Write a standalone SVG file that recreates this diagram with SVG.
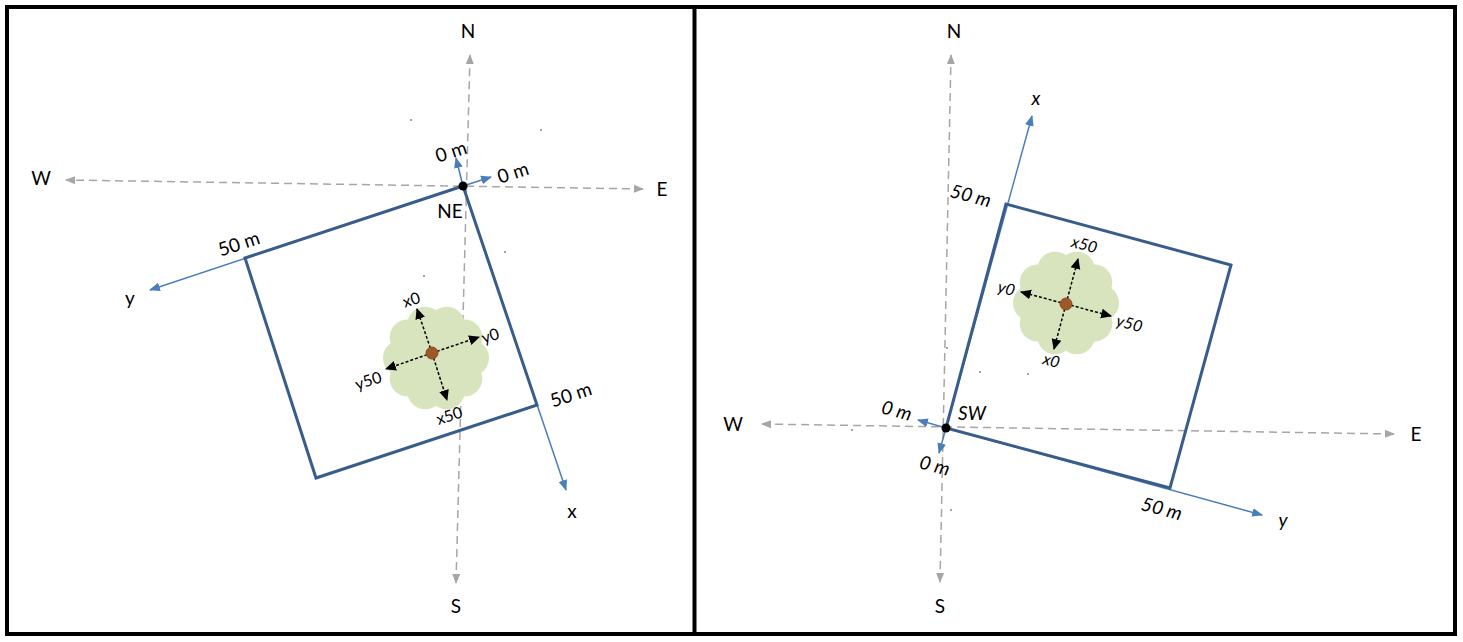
<svg xmlns="http://www.w3.org/2000/svg" xmlns:xlink="http://www.w3.org/1999/xlink" width="1463" height="642" viewBox="0 0 1463 642">
<style>
text{font-family:Lato,"Liberation Sans",sans-serif;fill:#000;}
.lbl{font-size:19px;}
.it{font-style:italic;}
.small{font-size:16px;}
.axis{stroke:#A6A6A6;stroke-width:1.5;stroke-dasharray:8 5;fill:none;marker-end:url(#ag);}
.both{marker-start:url(#ags);}
.bl{stroke:#4A7EBB;stroke-width:1.5;fill:none;marker-end:url(#ab);}
.sq{stroke:#385D8A;stroke-width:3;fill:none;stroke-linejoin:miter;}
.tr{stroke:#000;stroke-width:1.5;stroke-dasharray:3 2;fill:none;marker-end:url(#ak);}
.dot{fill:#8080C0;}
</style>
<defs>
<marker id="ag" markerUnits="userSpaceOnUse" markerWidth="10" markerHeight="10" viewBox="0 0 10 10" refX="9" refY="5" orient="auto"><path d="M0,1 L10,5 L0,9 Z" fill="#A6A6A6"/></marker>
<marker id="ags" markerUnits="userSpaceOnUse" markerWidth="10" markerHeight="10" viewBox="0 0 10 10" refX="1" refY="5" orient="auto"><path d="M10,1 L0,5 L10,9 Z" fill="#A6A6A6"/></marker>
<marker id="ab" markerUnits="userSpaceOnUse" markerWidth="11" markerHeight="11" viewBox="0 0 10 10" refX="9" refY="5" orient="auto"><path d="M0,1 L10,5 L0,9 Z" fill="#4A7EBB"/></marker>
<marker id="ak" markerUnits="userSpaceOnUse" markerWidth="11" markerHeight="11" viewBox="0 0 10 10" refX="9" refY="5" orient="auto"><path d="M0,0.5 L10,5 L0,9.5 Z" fill="#000"/></marker>
<g id="cloud" fill="#D7E4BD">
<circle r="42" cx="0" cy="0"/>
<circle r="18" cx="35" cy="0"/>
<circle r="18" cx="28.3" cy="20.6"/>
<circle r="18" cx="10.8" cy="33.3"/>
<circle r="18" cx="-10.8" cy="33.3"/>
<circle r="18" cx="-28.3" cy="20.6"/>
<circle r="18" cx="-35" cy="0"/>
<circle r="18" cx="-28.3" cy="-20.6"/>
<circle r="18" cx="-10.8" cy="-33.3"/>
<circle r="18" cx="10.8" cy="-33.3"/>
<circle r="18" cx="28.3" cy="-20.6"/>
</g>
</defs>
<rect x="0" y="0" width="1463" height="642" fill="#fff"/>
<g id="frame" fill="none" stroke="#000" stroke-width="4">
<rect x="7" y="7" width="1448" height="627"/>
<line x1="694.5" y1="7" x2="694.5" y2="634"/>
</g>

<!-- LEFT PANEL -->
<g id="connectors-left">
<line class="axis both" x1="456" y1="583" x2="470" y2="55"/>
<line class="axis both" x1="643" y1="189" x2="66" y2="180"/>
<line class="bl" x1="463" y1="186" x2="566" y2="490"/>
<line class="bl" x1="463" y1="186" x2="150" y2="290"/>
<line class="bl" x1="463" y1="186" x2="456" y2="158"/>
<line class="bl" x1="463" y1="186" x2="491" y2="177"/>
</g>
<g id="plot-left">
<polygon class="sq" points="463,186 537,405 316,478 245,258"/>
<circle cx="463" cy="186" r="4.5" fill="#000"/>
</g>
<g id="tree-left">
<use xlink:href="#cloud" href="#cloud" transform="translate(436,358)"/>
<line class="tr" x1="432" y1="353" x2="417" y2="309"/>
<line class="tr" x1="432" y1="353" x2="447" y2="400"/>
<line class="tr" x1="432" y1="353" x2="479" y2="337"/>
<line class="tr" x1="432" y1="353" x2="386" y2="369"/>
<circle cx="432" cy="353" r="6" fill="#A0582A" stroke="#8A4A20" stroke-width="1"/>
<text class="small" text-anchor="middle" transform="translate(413,305) rotate(-18)">x0</text>
<text class="small" text-anchor="middle" transform="translate(492,341) rotate(-18)">y0</text>
<text class="small" text-anchor="middle" transform="translate(370,386) rotate(-18)">y50</text>
<text class="small" text-anchor="middle" transform="translate(451,421) rotate(-18)">x50</text>
</g>
<g id="labels-left">
<text class="lbl" text-anchor="middle" x="468" y="38">N</text>
<text class="lbl" text-anchor="middle" x="456" y="613">S</text>
<text class="lbl" text-anchor="middle" x="41" y="185">W</text>
<text class="lbl" text-anchor="middle" x="662" y="196">E</text>
<text class="lbl" text-anchor="middle" x="572" y="518">x</text>
<text class="lbl" text-anchor="middle" x="130" y="305">y</text>
<text class="lbl" text-anchor="middle" x="450" y="218">NE</text>
<text class="lbl" text-anchor="middle" transform="translate(453,158) rotate(-18)">0 m</text>
<text class="lbl" text-anchor="middle" transform="translate(515,179) rotate(-18)">0 m</text>
<text class="lbl" text-anchor="middle" transform="translate(241,250) rotate(-18)">50 m</text>
<text class="lbl" text-anchor="middle" transform="translate(573,401) rotate(-18)">50 m</text>
</g>
<g id="specks-left">
<circle class="dot" cx="411" cy="120" r="1"/>
<circle class="dot" cx="541" cy="130" r="1"/>
<circle class="dot" cx="505" cy="252" r="1"/>
<circle class="dot" cx="424" cy="276" r="1"/>
</g>

<!-- RIGHT PANEL -->
<g id="connectors-right">
<line class="axis both" x1="940" y1="582" x2="951" y2="55"/>
<line class="axis both" x1="1394" y1="434" x2="762" y2="424"/>
<line class="bl" x1="946" y1="428" x2="1032" y2="116"/>
<line class="bl" x1="946" y1="428" x2="1262" y2="515"/>
<line class="bl" x1="946" y1="428" x2="918" y2="420"/>
<line class="bl" x1="946" y1="428" x2="939" y2="453"/>
</g>
<g id="plot-right">
<polygon class="sq" points="946,428 1006,204 1231,265 1170,488"/>
<circle cx="946" cy="428" r="4.5" fill="#000"/>
</g>
<g id="tree-right">
<use xlink:href="#cloud" href="#cloud" transform="translate(1066,303)"/>
<line class="tr" x1="1066" y1="304" x2="1078" y2="259"/>
<line class="tr" x1="1066" y1="304" x2="1054" y2="349"/>
<line class="tr" x1="1066" y1="304" x2="1021" y2="292"/>
<line class="tr" x1="1066" y1="304" x2="1111" y2="316"/>
<circle cx="1066" cy="304" r="6" fill="#A0582A" stroke="#8A4A20" stroke-width="1"/>
<text class="small it" text-anchor="middle" transform="translate(1083,250) rotate(15)">x50</text>
<text class="small it" text-anchor="middle" transform="translate(1005,294) rotate(15)">y0</text>
<text class="small it" text-anchor="middle" transform="translate(1128,329) rotate(15)">y50</text>
<text class="small it" text-anchor="middle" transform="translate(1050,366) rotate(15)">x0</text>
</g>
<g id="labels-right">
<text class="lbl" text-anchor="middle" x="954" y="38">N</text>
<text class="lbl" text-anchor="middle" x="940" y="613">S</text>
<text class="lbl" text-anchor="middle" x="733" y="431">W</text>
<text class="lbl" text-anchor="middle" x="1416" y="441">E</text>
<text class="lbl it" text-anchor="middle" x="1036" y="105">x</text>
<text class="lbl it" text-anchor="middle" x="1283" y="527">y</text>
<text class="lbl it" text-anchor="middle" x="972" y="420">SW</text>
<text class="lbl it" text-anchor="middle" transform="translate(895,417) rotate(15)">0 m</text>
<text class="lbl it" text-anchor="middle" transform="translate(933,472) rotate(15)">0 m</text>
<text class="lbl it" text-anchor="middle" transform="translate(969,202) rotate(15)">50 m</text>
<text class="lbl it" text-anchor="middle" transform="translate(1160,515) rotate(15)">50 m</text>
</g>
<g id="specks-right">
<circle class="dot" cx="947" cy="348" r="1"/>
<circle class="dot" cx="980" cy="372" r="1"/>
<circle class="dot" cx="1028" cy="374" r="1"/>
<circle class="dot" cx="852" cy="430" r="1"/>
<circle class="dot" cx="951" cy="510" r="1"/>
</g>
</svg>
